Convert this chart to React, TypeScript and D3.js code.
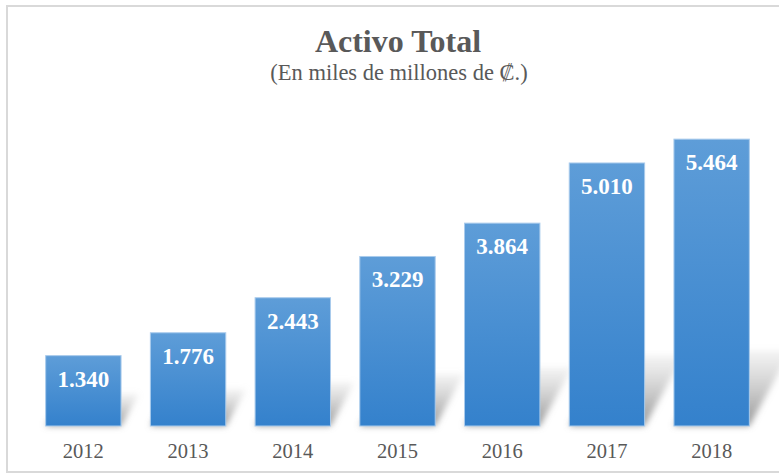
import React from 'react';
import * as d3 from 'd3';

const years = ['2012', '2013', '2014', '2015', '2016', '2017', '2018'];
const totals = [1.34, 1.776, 2.443, 3.229, 3.864, 5.01, 5.464];
const labels = ['1.340', '1.776', '2.443', '3.229', '3.864', '5.010', '5.464'];

const W = 779;
const H = 474;
const serif = "'Liberation Serif', 'DejaVu Serif', serif";

export default function App() {
  const x = d3
    .scaleBand()
    .domain(years)
    .range([31, 764])
    .paddingInner(0.28)
    .paddingOuter(0.14);

  const y = d3.scaleLinear().domain([0, 6]).range([426, 111]);
  const bw = x.bandwidth();
  const base = y(0);

  const shadowPath = (yr: string, v: number) => {
    const x0 = x(yr) as number;
    const h = base - y(v);
    const dy = 18 + 0.2 * h;
    const dx = dy * 0.55;
    return `M${x0},${base} L${x0 + bw},${base} L${x0 + bw + dx},${base - dy} L${x0 + dx},${base - dy} Z`;
  };

  return (
    <svg
      width={W}
      height={H}
      style={{ position: 'absolute', left: 0, top: 0, background: '#fff' }}
    >
      <defs>
        <linearGradient id="barFill" x1="0" y1="0" x2="0" y2="1">
          <stop offset="0%" stopColor="#5e9dd8" />
          <stop offset="100%" stopColor="#3481cc" />
        </linearGradient>
        <linearGradient id="shadowFill" x1="0" y1="1" x2="0" y2="0">
          <stop offset="0%" stopColor="#8a8a8a" stopOpacity={0.9} />
          <stop offset="100%" stopColor="#b5b5b5" stopOpacity={0.15} />
        </linearGradient>
        <filter id="blur" x="-30%" y="-30%" width="160%" height="160%">
          <feGaussianBlur stdDeviation="3" />
        </filter>
      </defs>

      <rect x={7} y={6} width={800} height={466} fill="none" stroke="#d9d9d9" strokeWidth={2} />

      <text
        x={398}
        y={52}
        textAnchor="middle"
        fontFamily={serif}
        fontWeight="bold"
        fontSize={32}
        fill="#595959"
      >
        Activo Total
      </text>
      <text x={399} y={80} textAnchor="middle" fontFamily={serif} fontSize={22.5} fill="#595959">
        (En miles de millones de ₡.)
      </text>

      <g filter="url(#blur)">
        {years.map((yr, i) => (
          <path key={yr} d={shadowPath(yr, totals[i])} fill="url(#shadowFill)" />
        ))}
      </g>

      {years.map((yr, i) => (
        <g key={yr}>
          <rect
            x={x(yr)}
            y={y(totals[i])}
            width={bw}
            height={base - y(totals[i])}
            fill="url(#barFill)"
            stroke="#a9cbec"
            strokeWidth={1}
          />
          <text
            x={(x(yr) as number) + bw / 2}
            y={y(totals[i]) + 31}
            textAnchor="middle"
            fontFamily={serif}
            fontWeight="bold"
            fontSize={23}
            fill="#ffffff"
          >
            {labels[i]}
          </text>
          <text
            x={(x(yr) as number) + bw / 2}
            y={458}
            textAnchor="middle"
            fontFamily={serif}
            fontSize={20.5}
            fill="#595959"
          >
            {yr}
          </text>
        </g>
      ))}
    </svg>
  );
}
